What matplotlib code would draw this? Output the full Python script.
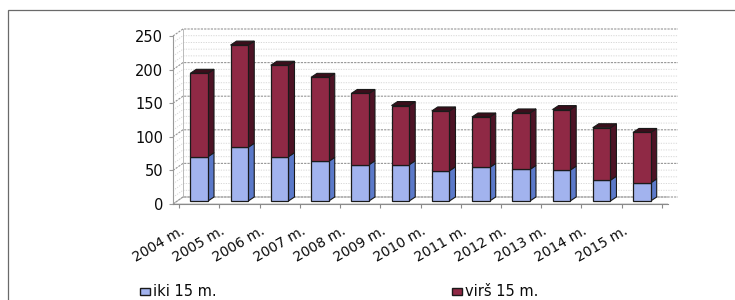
import matplotlib
matplotlib.use("Agg")
import matplotlib.pyplot as plt
from matplotlib.patches import Polygon, Rectangle
from matplotlib.lines import Line2D
from matplotlib.transforms import IdentityTransform, ScaledTranslation, offset_copy
import numpy as np

years = ["2004 m.", "2005 m.", "2006 m.", "2007 m.", "2008 m.", "2009 m.",
         "2010 m.", "2011 m.", "2012 m.", "2013 m.", "2014 m.", "2015 m."]
iki = [66, 80, 66, 59, 54, 54, 45, 50, 47, 46, 31, 27]
virs = [124, 152, 136, 125, 106, 88, 89, 75, 84, 90, 78, 75]
series_labels = ["iki 15 m.", "virš 15 m."]
yticks = [0, 50, 100, 150, 200, 250]

W, H = 735, 300
fig = plt.figure(figsize=(W / 100, H / 100), dpi=100)
fig.patch.set_facecolor("white")

# outer frame (only top/left visible in the reference)
fig.add_artist(Rectangle((8 / W, -0.1), 1.2, 1 - 10 / H + 0.1, transform=fig.transFigure,
                         fill=False, edgecolor="#6a6a6a", lw=0.9))

ax = fig.add_axes([173 / W, (H - 204) / H, 495 / W, 168 / H])
ax.set_xlim(-0.65, 11.65)
ax.set_ylim(0, 250)
ax.set_autoscale_on(False)
ax.patch.set_alpha(0)
for s in ["top", "right"]:
    ax.spines[s].set_visible(False)
ax.spines["left"].set_color("#9a9a9a")
ax.spines["bottom"].set_color("#8a8a8a")
ax.spines["left"].set_linewidth(0.8)
ax.spines["bottom"].set_linewidth(0.8)

fig.canvas.draw()
ident = IdentityTransform()
DX, DY = 10, 7      # wall depth in pixels
bdx, bdy = 6, 4     # bar depth in pixels
lift = 3            # bars sit slightly behind the front edge

def disp(xd, yd):
    return ax.transData.transform((xd, yd))

x0, x1 = ax.get_xlim()
# floor
p0 = disp(x0, 0); p1 = disp(x1, 0)
floor = Polygon([p0, p1, p1 + [DX, DY], p0 + [DX, DY]], closed=True, transform=ident,
                facecolor="white", edgecolor="#b0b0b0", lw=0.6, zorder=0.4)
ax.add_patch(floor)

# gridlines: minor (every 10) and major (every 50)
for v in range(0, 251, 10):
    a = disp(x0, v); b = disp(x1, v)
    major = v % 50 == 0
    pts = np.array([a, a + [DX, DY], b + [DX, DY]])
    ax.add_line(Line2D(pts[:, 0], pts[:, 1], transform=ident,
                       color="#969696" if major else "#d2d2d2",
                       lw=0.8 if major else 0.6,
                       linestyle=(0, (2, 1)) if major else (0, (1.5, 1.5)),
                       zorder=0.5, clip_on=False))
# back wall left edge
a = disp(x0, 0) + [DX, DY]; b = disp(x0, 250) + [DX, DY]
ax.add_line(Line2D([a[0], b[0]], [a[1], b[1]], transform=ident, color="#b0b0b0",
                   lw=0.6, zorder=0.5, clip_on=False))

xs = np.arange(len(years))
w = 0.44
lift_tr = offset_copy(ax.transData, fig=fig, x=0, y=lift, units="dots")

blue_front, blue_side = "#a2b3ee", "#5b79c9"
red_front, red_side, red_top = "#8f2945", "#4d1325", "#3a0e1b"
edge = "#1a1a1a"

ax.bar(xs, iki, w, color=blue_front, edgecolor=edge, lw=0.9, transform=lift_tr, zorder=3)
ax.bar(xs, virs, w, bottom=iki, color=red_front, edgecolor=edge, lw=0.9, transform=lift_tr, zorder=3)

for xi, lo, hi in zip(xs, iki, virs):
    tot = lo + hi
    r0 = disp(xi + w / 2, 0) + [0, lift]
    r1 = disp(xi + w / 2, lo) + [0, lift]
    r2 = disp(xi + w / 2, tot) + [0, lift]
    l2 = disp(xi - w / 2, tot) + [0, lift]
    d = np.array([bdx, bdy])
    ax.add_patch(Polygon([r0, r1, r1 + d, r0 + d], transform=ident, facecolor=blue_side,
                         edgecolor=edge, lw=0.8, zorder=2.5))
    ax.add_patch(Polygon([r1, r2, r2 + d, r1 + d], transform=ident, facecolor=red_side,
                         edgecolor=edge, lw=0.8, zorder=2.5))
    ax.add_patch(Polygon([l2, r2, r2 + d, l2 + d], transform=ident, facecolor=red_top,
                         edgecolor=edge, lw=0.8, zorder=2.5))

ax.set_yticks(yticks)
ax.set_yticklabels([str(t) for t in yticks], fontsize=10.5, color="#0a0a0a")
ax.tick_params(axis="y", length=3, width=0.8, color="#9a9a9a", pad=4)

ax.set_xticks(xs)
ax.set_xticklabels(years, fontsize=10, rotation=30, ha="right", va="top",
                   rotation_mode="anchor", color="#0a0a0a")
ax.tick_params(axis="x", length=0, pad=14)
ax.set_xticks(np.arange(-0.5, 12, 1), minor=True)
ax.tick_params(axis="x", which="minor", length=3, width=0.8, color="#8a8a8a")
shift = ScaledTranslation(-19 / 100, 0, fig.dpi_scale_trans)
for lab in ax.get_xticklabels():
    lab.set_transform(lab.get_transform() + shift)

# legend
leg_y = (H - 291) / H
for xpx, lab, col in [(140, series_labels[0], blue_front), (452, series_labels[1], red_front)]:
    fig.add_artist(Rectangle((xpx / W, leg_y - 3.5 / H), 10 / W, 7 / H, transform=fig.transFigure,
                             facecolor=col, edgecolor=edge, lw=1.0))
    fig.text((xpx + 13) / W, leg_y, lab, fontsize=10.5, va="center", ha="left", color="#0a0a0a")

fig.savefig("out.png", dpi=100)
